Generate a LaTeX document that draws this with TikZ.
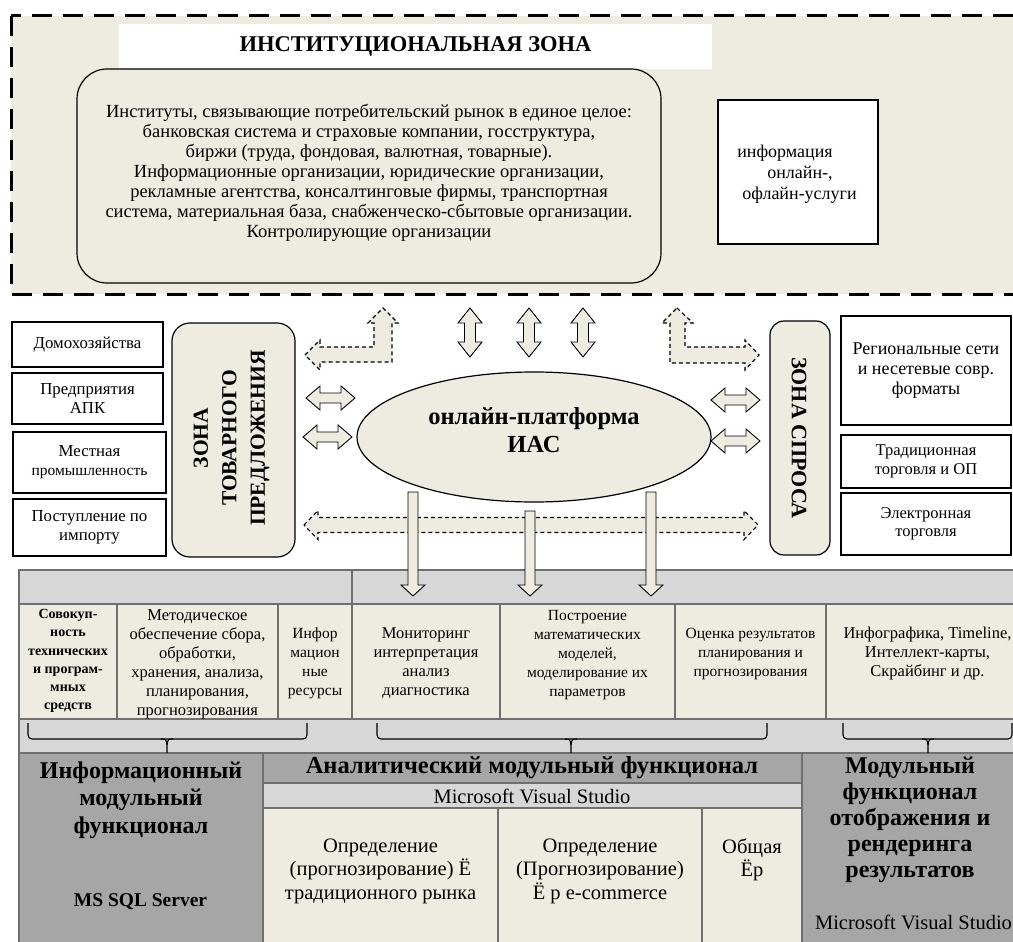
\documentclass[tikz,border=0pt]{standalone}
\usepackage{fontspec}
\setmainfont{Liberation Serif}
\usetikzlibrary{shapes.geometric}
\definecolor{beige}{HTML}{EEECE1}
\definecolor{lgray}{HTML}{D7D7D7}
\definecolor{dgray}{HTML}{A6A6A6}
\definecolor{tgray}{HTML}{6F6F6F}
\newcommand{\fs}[2]{\fontsize{#1}{#2}\selectfont}
\newcommand{\hdbl}[3]{\path[blockarrow] (#1,#3) -- (#1+14,#3-12) -- (#1+14,#3-5) -- (#2-14,#3-5) -- (#2-14,#3-12) -- (#2,#3) -- (#2-14,#3+12) -- (#2-14,#3+5) -- (#1+14,#3+5) -- (#1+14,#3+12) -- cycle;}
\newcommand{\vdbl}[3]{\path[blockarrow] (#1,#2) -- (#1+12,#2+15) -- (#1+5.5,#2+15) -- (#1+5.5,#3-15) -- (#1+12,#3-15) -- (#1,#3) -- (#1-12,#3-15) -- (#1-5.5,#3-15) -- (#1-5.5,#2+15) -- (#1-12,#2+15) -- cycle;}
\newcommand{\downarr}[2]{\path[blockarrow] (#1-5,#2) -- (#1+5,#2) -- (#1+5,585) -- (#1+12,585) -- (#1,596) -- (#1-12,585) -- (#1-5,585) -- cycle;}
\newcommand{\brk}[3]{\draw[bracket] (#1,723) -- (#1,739) -- (#2,739) -- (#2,723);
  \draw[line width=1.1pt] (#3-6,739) .. controls (#3-1,739) .. (#3,745) -- (#3,753);
  \draw[line width=1.1pt] (#3+6,739) .. controls (#3+1,739) .. (#3,745);}
\tikzset{
  whitebox/.style={draw=black, line width=1.3pt, fill=white, inner sep=0pt, align=center, font=\fs{16.8}{19}},
  zonebox/.style={draw=black, line width=1.2pt, fill=beige, inner sep=0pt},
  blockarrow/.style={draw=black, line width=0.9pt, fill=beige, line join=miter},
  dasharrow/.style={draw=black, line width=1.1pt, dash pattern=on 4pt off 3pt, fill=beige},
  tline/.style={draw=tgray, line width=1.8pt},
  bracket/.style={draw=black, line width=1.1pt, rounded corners=4pt},
  celltext/.style={inner sep=0pt, align=center},
}
\begin{document}
\begin{tikzpicture}[x=1pt,y=-1pt]
\useasboundingbox (0,0) rectangle (1013,942);
\clip (0,0) rectangle (1013,942);
% ---------- institutional zone
\draw[line width=3pt, dash pattern=on 20pt off 11pt, fill=beige] (11,16) rectangle (1040,294);
\node[fill=white, minimum width=593pt, minimum height=45pt, inner sep=0pt, font=\bfseries\fs{22.5}{26}] (title) at (415.5,46.5) {ИНСТИТУЦИОНАЛЬНАЯ ЗОНА};
\node[zonebox, rounded corners=30pt, minimum width=584pt, minimum height=214pt] (inst) at (369,176) {};
\node[celltext, font=\fs{18.5}{20}] (insttxt) at (369,172.5) {Институты, связывающие потребительский рынок в единое целое:\\банковская система и страховые компании, госструктура,\\биржи (труда, фондовая, валютная, товарные).\\Информационные организации, юридические организации,\\рекламные агентства, консалтинговые фирмы, транспортная\\система, материальная база, снабженческо-сбытовые организации.\\Контролирующие организации};
\node[whitebox, minimum width=160pt, minimum height=144pt] (info) at (798,172) {};
\node[inner sep=0pt, align=left, font=\fs{18}{21}] (infotxt) at (797,174) {информация\\\hspace*{30pt}онлайн-,\\\hspace*{5pt}офлайн-услуги};
% ---------- supply side
\node[whitebox, minimum width=151pt, minimum height=45pt] (dom) at (87.5,344.5) {Домохозяйства};
\node[whitebox, minimum width=151pt, minimum height=51pt] (apk) at (87.5,398.5) {Предприятия\\АПК};
\node[whitebox, minimum width=153pt, minimum height=61pt] (prom) at (89.5,462.5) {Местная\\{\fs{15.5}{19}промышленность}};
\node[whitebox, minimum width=153pt, minimum height=57pt] (imp) at (89.5,527.5) {Поступление по\\импорту};
\node[zonebox, rounded corners=18pt, minimum width=123pt, minimum height=234pt] (supply) at (233.5,440) {};
\node[rotate=90, align=center, font=\bfseries\fs{21.5}{28.5}, inner sep=0pt] (supplytxt) at (231.5,438) {ЗОНА\\ТОВАРНОГО\\ПРЕДЛОЖЕНИЯ};
% ---------- demand side
\node[zonebox, rounded corners=14pt, minimum width=60pt, minimum height=234pt] (demand) at (800,438) {};
\node[rotate=-90, font=\bfseries\fs{22}{25}, inner sep=0pt] (demandtxt) at (799,438) {ЗОНА СПРОСА};
\node[whitebox, font=\fs{18}{20}, minimum width=170pt, minimum height=109pt] (reg) at (926,370.5) {Региональные сети\\и несетевые совр.\\форматы};
\node[whitebox, font=\fs{16.5}{18.5}, minimum width=170pt, minimum height=53pt] (trad) at (926,461.5) {Традиционная\\торговля и ОП};
\node[whitebox, font=\fs{16.5}{18.5}, minimum width=170pt, minimum height=62pt] (ecom) at (926,524) {Электронная\\торговля};
% ---------- platform
\node[ellipse, draw=black, line width=1.2pt, fill=beige, minimum width=354pt, minimum height=130pt, inner sep=0pt] (ias) at (534,437) {};
\node[align=center, font=\bfseries\fs{24.5}{28}, inner sep=0pt] (iastxt) at (534,430) {онлайн-платформа\\ИАС};
% ---------- block arrows
\vdbl{470}{308}{357}
\vdbl{529}{308}{357}
\vdbl{583}{308}{357}
\hdbl{306}{355}{398}
\hdbl{303}{352}{437}
\hdbl{711}{760}{400}
\hdbl{711}{760}{441}
\path[dasharrow] (305,355) -- (320,340) -- (320,347) -- (374,347) -- (374,323) -- (368,323) -- (383,308) -- (398,323) -- (392,323) -- (392,362) -- (320,362) -- (320,370) -- cycle;
\path[dasharrow] (677,308) -- (693,323) -- (685,323) -- (685,347) -- (745,347) -- (745,340) -- (759,355) -- (745,370) -- (745,363) -- (670,363) -- (670,323) -- (662,323) -- cycle;
\path[dasharrow] (304,525) -- (318,510.5) -- (318,517.5) -- (744,517.5) -- (744,510.5) -- (758,525) -- (744,539.5) -- (744,532.5) -- (318,532.5) -- (318,539.5) -- cycle;
% ---------- table
\fill[lgray] (19,570) rectangle (1020,604);
\fill[beige] (19,604) rectangle (1020,719);
\fill[lgray] (19,719) rectangle (1020,753);
\fill[dgray] (19,753) rectangle (263,950);
\fill[dgray] (263,753) rectangle (802,783);
\fill[lgray] (263,783) rectangle (802,808);
\fill[beige] (263,808) rectangle (802,950);
\fill[dgray] (802,753) rectangle (1020,950);
\draw[tline] (19,570) rectangle (1020,950);
\draw[tline] (19,604) -- (1020,604) (19,719) -- (1020,719) (19,753) -- (1020,753);
\draw[tline] (352,570) -- (352,604);
\foreach \xx in {117,278,352,500,675,826} {\draw[tline] (\xx,604) -- (\xx,719);}
\draw[tline] (263,753) -- (263,950) (802,753) -- (802,950);
\draw[tline] (263,783) -- (802,783) (263,808) -- (802,808);
\draw[tline] (498,808) -- (498,950) (702,808) -- (702,950);
% ---------- arrows into the table
\downarr{413}{492}
\downarr{530}{511}
\downarr{651}{492}
% ---------- cells
\node[celltext, font=\bfseries\fs{14}{18.2}] (c1) at (68,661) {Совокуп-\\ность\\технических\\и програм-\\мных\\средств};
\node[celltext, font=\fs{16.5}{19}] (c2) at (197.5,664) {Методическое\\обеспечение сбора,\\обработки,\\хранения, анализа,\\планирования,\\прогнозирования};
\node[celltext, font=\fs{15.5}{19}] (c3) at (315,663.5) {Инфор\\мацион\\ные\\ресурсы};
\node[celltext, font=\fs{16.5}{19}] (c4) at (426,663.5) {Мониторинг\\интерпретация\\анализ\\диагностика};
\node[celltext, font=\fs{15.5}{19}] (c5) at (587.5,655) {Построение\\математических\\моделей,\\моделирование их\\параметров};
\node[celltext, font=\fs{15.5}{19}] (c6) at (750.5,654) {Оценка результатов\\планирования и\\прогнозирования};
\node[celltext, font=\fs{16.5}{19}] (c7) at (927.5,654) {Инфографика, Timeline,\\Интеллект-карты,\\Скрайбинг и др.};
\brk{28}{307}{167}
\brk{377}{767}{571}
\brk{843}{1012}{928}
\node[celltext, font=\bfseries\fs{24}{27.5}] (infmod) at (141,800) {Информационный\\модульный\\функционал};
\node[celltext, font=\bfseries\fs{19.5}{22}] (sql) at (140.5,902) {MS SQL Server};
\node[celltext, font=\bfseries\fs{24.5}{28}] (anmod) at (532,768) {Аналитический модульный функционал};
\node[celltext, font=\fs{20.5}{24}] (mvs1) at (532,796) {Microsoft Visual Studio};
\node[celltext, font=\fs{20.5}{23.5}] (trad2) at (380.5,871) {Определение\\(прогнозирование) Ё\\традиционного рынка};
\node[celltext, font=\fs{20.5}{23.5}] (ecom2) at (600,871) {Определение\\(Прогнозирование)\\Ё р e-commerce};
\node[celltext, font=\fs{20.5}{23.5}] (gen) at (752,860) {Общая\\Ёр};
\node[celltext, font=\bfseries\fs{24}{26}] (dispmod) at (910,820) {Модульный\\функционал\\отображения и\\рендеринга\\результатов};
\node[celltext, font=\fs{20.5}{24}] (mvs2) at (913.5,922) {Microsoft Visual Studio};
\end{tikzpicture}
\end{document}
